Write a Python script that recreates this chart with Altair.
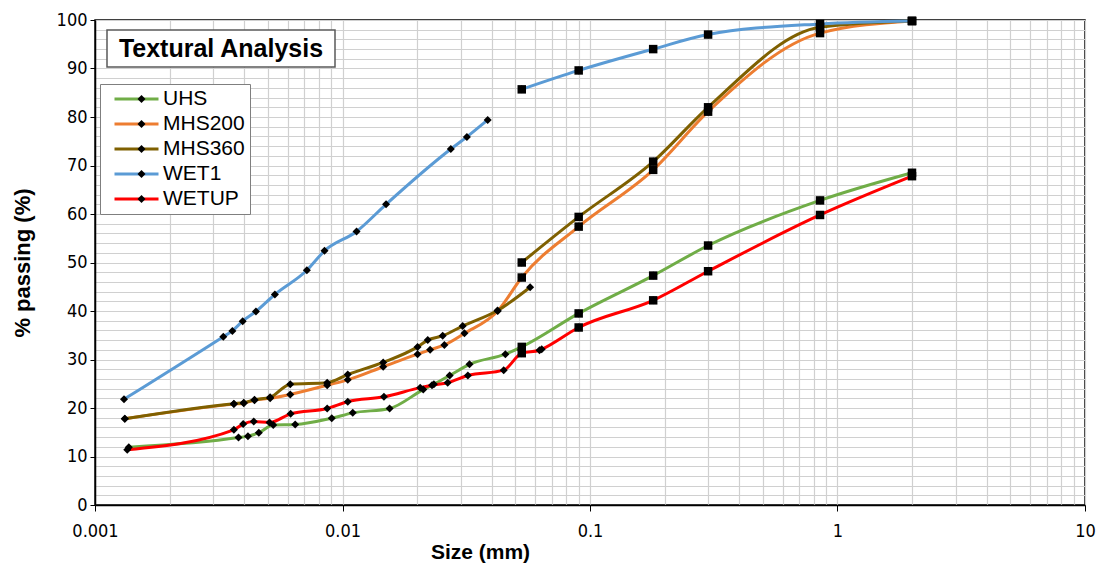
import altair as alt
import pandas as pd

SERIES = ["UHS", "MHS200", "MHS360", "WET1", "WETUP"]
COLORS = ["#70AD47", "#ED7D31", "#7F6000", "#5B9BD5", "#FF0000"]

SIEVE_X = [0.053, 0.09, 0.18, 0.3, 0.85, 2.0]

uhs_h_x = [0.00137, 0.0038, 0.00415, 0.00459, 0.00525, 0.00644, 0.00905, 0.0110, 0.0155, 0.0212, 0.0234, 0.0271, 0.0326, 0.0455]
uhs_h_y = [11.9, 13.9, 14.2, 14.9, 16.5, 16.6, 17.9, 19.0, 19.9, 23.8, 24.9, 26.7, 29.0, 31.1]
uhs_s_y = [32.6, 39.5, 47.3, 53.5, 62.8, 68.5]

mhs200_h_x = [0.00132, 0.00364, 0.00399, 0.00441, 0.0051, 0.00615, 0.00867, 0.0105, 0.0146, 0.0201, 0.0226, 0.0258, 0.0311, 0.0424]
mhs200_h_y = [17.8, 20.8, 21.0, 21.6, 22.0, 22.8, 24.7, 25.8, 28.5, 31.1, 32.0, 33.0, 35.4, 40.0]
mhs200_s_y = [46.9, 57.4, 69.1, 81.1, 97.3, 99.8]

mhs360_h_x = [0.00132, 0.00364, 0.00399, 0.00441, 0.0051, 0.00615, 0.00867, 0.0105, 0.0146, 0.0201, 0.0221, 0.0254, 0.0306, 0.0423, 0.0573]
mhs360_h_y = [17.8, 20.9, 21.1, 21.7, 22.2, 24.9, 25.2, 26.9, 29.4, 32.6, 34.0, 34.9, 36.9, 40.1, 44.9]
mhs360_s_y = [50.0, 59.4, 70.8, 82.0, 98.5, 99.8]

wet1_h_x = [0.00131, 0.0033, 0.00359, 0.00395, 0.00447, 0.00533, 0.00718, 0.00846, 0.0114, 0.0150, 0.0274, 0.0318, 0.0386]
wet1_h_y = [21.8, 34.7, 35.9, 37.9, 39.9, 43.4, 48.4, 52.4, 56.4, 62.0, 73.4, 75.9, 79.4]
wet1_s_y = [85.7, 89.6, 94.0, 97.0, 99.2, 99.8]

wetup_h_x = [0.00135, 0.00364, 0.00397, 0.00438, 0.00507, 0.00617, 0.00867, 0.0105, 0.0147, 0.0206, 0.0230, 0.0266, 0.0321, 0.0448, 0.0625, 0.0638]
wetup_h_y = [11.4, 15.5, 16.7, 17.2, 17.0, 18.8, 19.9, 21.3, 22.3, 24.2, 24.7, 25.2, 26.7, 27.8, 31.9, 32.1]
wetup_s_y = [31.3, 36.6, 42.2, 48.2, 59.8, 67.8]

# whether hydrometer and sieve parts are drawn as one continuous line
JOINED = {"UHS": True, "MHS200": True, "MHS360": False, "WET1": False, "WETUP": True}

rows = []


def add(name, hx, hy, sy):
    for xv, yv in zip(hx, hy):
        rows.append(dict(series=name, method="hydrometer", x=xv, y=yv,
                         seg=name if JOINED[name] else name + "-h"))
    for xv, yv in zip(SIEVE_X, sy):
        rows.append(dict(series=name, method="sieve", x=xv, y=yv,
                         seg=name if JOINED[name] else name + "-s"))


add("UHS", uhs_h_x, uhs_h_y, uhs_s_y)
add("MHS200", mhs200_h_x, mhs200_h_y, mhs200_s_y)
add("MHS360", mhs360_h_x, mhs360_h_y, mhs360_s_y)
add("WET1", wet1_h_x, wet1_h_y, wet1_s_y)
add("WETUP", wetup_h_x, wetup_h_y, wetup_s_y)
df = pd.DataFrame(rows)

MARKER_KEYS = ["m_" + s for s in SERIES]

XVALS = []
for d in [0.001, 0.01, 0.1, 1.0]:
    for m in range(1, 10):
        XVALS.append(round(d * m, 6))
XVALS.append(10.0)
YVALS = list(range(0, 101, 2))
DECADE_TEST = "abs(log(datum.value)/LN10 - round(log(datum.value)/LN10)) < 0.000001"
YMAJOR_TEST = "datum.value % 10 == 0"

TICK_FONT = "'DejaVu Sans Condensed', 'Liberation Sans Narrow', 'Liberation Sans', sans-serif"
TEXT_FONT = "Liberation Sans"

x_enc = alt.X(
    "x:Q",
    scale=alt.Scale(type="log", domain=[0.001, 10]),
    axis=alt.Axis(
        values=XVALS,
        tickCount=500,
        labelExpr=f"({DECADE_TEST}) ? format(datum.value, '~g') : ''",
        tickOpacity={"condition": {"test": DECADE_TEST, "value": 1}, "value": 0},
        labelFontSize={"condition": {"test": DECADE_TEST, "value": 18}, "value": 0},
        labelOverlap=False,
        labelFlush=False,
        tickSize=6,
        labelPadding=11,
        labelFont=TICK_FONT,
        title="Size (mm)",
        titleFont=TEXT_FONT,
        titleFontSize=21,
        titleFontWeight="bold",
        titlePadding=1,
        titleX=385,
        titleAnchor="middle",
    ),
)
y_enc = alt.Y(
    "y:Q",
    scale=alt.Scale(domain=[0, 100], nice=False),
    axis=alt.Axis(
        values=YVALS,
        tickCount=500,
        labelExpr=f"{YMAJOR_TEST} ? format(datum.value, 'd') : ''",
        tickOpacity={"condition": {"test": YMAJOR_TEST, "value": 1}, "value": 0},
        labelFontSize={"condition": {"test": YMAJOR_TEST, "value": 18}, "value": 0},
        labelOverlap=False,
        tickSize=5,
        labelPadding=3,
        labelFont=TICK_FONT,
        title="% passing (%)",
        titleFont=TEXT_FONT,
        titleFontSize=22,
        titleFontWeight="bold",
        titlePadding=22,
    ),
)

base = alt.Chart(df)

LEG_COMMON = dict(
    orient="none", legendX=5, legendY=64, title=None,
    clipHeight=20, rowPadding=4, padding=5,
    labelFont=TEXT_FONT, labelFontSize=21, labelOffset=3,
)

lines = base.mark_line(interpolate="monotone", strokeWidth=3).encode(
    x=x_enc,
    y=y_enc,
    color=alt.Color(
        "series:N",
        scale=alt.Scale(domain=SERIES, range=COLORS),
        legend=alt.Legend(
            symbolType="stroke", symbolSize=1936, symbolStrokeWidth=3, symbolOffset=8,
            labelColor="black", fillColor="white", strokeColor="#7f7f7f", zindex=1,
            **LEG_COMMON,
        ),
    ),
    detail="seg:N",
)

diamonds = base.transform_calculate(marker="'m_' + datum.series").mark_point(
    filled=True, size=64, color="black", opacity=1
).encode(
    x="x:Q",
    y="y:Q",
    shape=alt.Shape(
        "marker:N",
        scale=alt.Scale(domain=MARKER_KEYS, range=["diamond"] * len(MARKER_KEYS)),
        legend=alt.Legend(
            symbolSize=64, symbolOffset=26, labelExpr="' '",
            symbolFillColor="black", symbolStrokeColor="black", symbolOpacity=1,
            zindex=2,
            **LEG_COMMON,
        ),
    ),
)

squares = base.transform_filter(alt.datum.method == "sieve").mark_point(
    filled=True, size=72, shape="square", color="black", opacity=1
).encode(x="x:Q", y="y:Q")

title_df = pd.DataFrame({"label": ["Textural Analysis"]})
title_box = alt.Chart(title_df).mark_rect(fill="white", stroke="#595959", strokeWidth=1.5).encode(
    x=alt.value(12), x2=alt.value(240), y=alt.value(10), y2=alt.value(47)
)
title_text = alt.Chart(title_df).mark_text(
    font=TEXT_FONT, fontSize=25, fontWeight="bold", align="center", baseline="middle", color="black"
).encode(text="label:N", x=alt.value(126), y=alt.value(29))

chart = (
    alt.layer(lines, diamonds, squares, title_box, title_text)
    .properties(
        width=990,
        height=485,
        autosize=alt.AutoSizeParams(type="none"),
        padding={"left": 95, "top": 20, "right": 19, "bottom": 60},
        background="white",
    )
    .configure_view(stroke="black", strokeWidth=1.5)
    .configure_axis(
        domainColor="black",
        domainWidth=1.5,
        tickColor="black",
        gridColor="#d0d0d0",
        gridWidth=1.2,
        labelColor="black",
        titleColor="black",
    )
)

chart.save("out.html", embed_options={"renderer": "svg", "actions": False})
